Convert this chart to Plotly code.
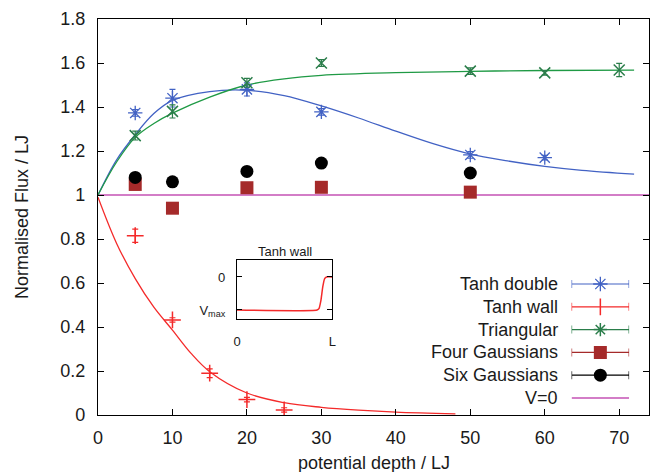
import plotly.graph_objects as go

# ---------------- data ----------------
depth_td = [5, 10, 20, 30, 50, 60]
flux_td = [1.373, 1.44, 1.48, 1.378, 1.182, 1.17]
err_td = [0.015, 0.04, 0.03, 0.015, 0.015, 0.01]

depth_tw = [5, 10, 15, 20, 25]
flux_tw = [0.815, 0.432, 0.19, 0.07, 0.023]
err_tw = [0.03, 0.01, 0.02, 0.01, 0.01]

depth_tri = [5, 10, 20, 30, 50, 60, 70]
flux_tri = [1.27, 1.38, 1.51, 1.60, 1.563, 1.555, 1.568]
err_tri = [0.02, 0.03, 0.02, 0.015, 0.015, 0.01, 0.03]

depth_g4 = [5, 10, 20, 30, 50]
flux_g4 = [1.048, 0.94, 1.033, 1.035, 1.013]
err_g4 = [0.01, 0.005, 0.005, 0.012, 0.005]

depth_g6 = [5, 10, 20, 30, 50]
flux_g6 = [1.08, 1.06, 1.107, 1.145, 1.10]
err_g6 = [0.005, 0.005, 0.005, 0.005, 0.005]

# fitted curves
fit_td_x = [0, 2.5, 5, 7.5, 10, 15, 20, 25, 30, 35, 40, 45, 50, 55, 60, 65, 72]
fit_td_y = [1.0, 1.16, 1.274, 1.37, 1.43, 1.47, 1.476, 1.452, 1.405, 1.35, 1.29, 1.233, 1.186, 1.155, 1.13, 1.112, 1.095]

fit_tri_x = [0, 2.5, 5, 7.5, 10, 15, 20, 25, 30, 40, 50, 60, 72]
fit_tri_y = [1.0, 1.15, 1.262, 1.325, 1.372, 1.445, 1.50, 1.528, 1.544, 1.556, 1.562, 1.566, 1.568]

fit_tw_x = [0, 2.5, 5, 7.5, 10, 12.5, 15, 20, 25, 30, 35, 40, 48]
fit_tw_y = [0.99, 0.78, 0.62, 0.49, 0.386, 0.28, 0.197, 0.10, 0.056, 0.035, 0.022, 0.013, 0.005]

v0_x = [0, 74]
v0_y = [1, 1]

# inset: tanh wall potential profile
inset_x = [0, 0.84, 0.86, 0.88, 0.90, 0.92, 0.94, 1.0]
inset_y = [-1, -1, -0.96, -0.72, -0.3, -0.05, 0, 0]

legend_names = ["Tanh double", "Tanh wall", "Triangular", "Four Gaussians", "Six Gaussians", "V=0"]

# ---------------- styles ----------------
C_BLUE = "#4262c4"
C_RED = "#f42a2a"
C_GREEN = "#2a7d4a"
C_GREEN_LINE = "#1f9a45"
C_BROWN = "#a52a2a"
C_BLACK = "#000000"
C_MAG = "#c452b4"

FONT = "Liberation Sans, Arial, Helvetica, sans-serif"
FS = 18

fig = go.Figure()

def eb(arr, color, width=3):
    return dict(type="data", array=arr, visible=True, color=color, thickness=1.2, width=width)

# curves
fig.add_trace(go.Scatter(x=v0_x, y=v0_y, mode="lines", line=dict(color=C_MAG, width=1.5), showlegend=False))
fig.add_trace(go.Scatter(x=fit_td_x, y=fit_td_y, mode="lines", line=dict(color=C_BLUE, width=1.3, shape="spline"), showlegend=False))
fig.add_trace(go.Scatter(x=fit_tri_x, y=fit_tri_y, mode="lines", line=dict(color=C_GREEN_LINE, width=1.3, shape="spline"), showlegend=False))
fig.add_trace(go.Scatter(x=fit_tw_x, y=fit_tw_y, mode="lines", line=dict(color=C_RED, width=1.3, shape="spline"), showlegend=False))

# points
fig.add_trace(go.Scatter(x=depth_td, y=flux_td, mode="markers", error_y=eb(err_td, C_BLUE),
                         marker=dict(symbol="asterisk-open", size=12, color=C_BLUE, line=dict(color=C_BLUE, width=1.3)), showlegend=False))
fig.add_trace(go.Scatter(x=depth_tw, y=flux_tw, mode="markers", error_y=eb(err_tw, C_RED),
                         marker=dict(symbol="cross-thin-open", size=12, color=C_RED, line=dict(color=C_RED, width=1.5)), showlegend=False))
fig.add_trace(go.Scatter(x=depth_tri, y=flux_tri, mode="markers", error_y=eb(err_tri, C_GREEN),
                         marker=dict(symbol="x-thin-open", size=11, color=C_GREEN, line=dict(color=C_GREEN, width=1.5)), showlegend=False))
fig.add_trace(go.Scatter(x=depth_g4, y=flux_g4, mode="markers", error_y=eb(err_g4, C_BROWN),
                         marker=dict(symbol="square", size=13, color=C_BROWN), showlegend=False))
fig.add_trace(go.Scatter(x=depth_g6, y=flux_g6, mode="markers", error_y=eb(err_g6, C_BLACK),
                         marker=dict(symbol="circle", size=13, color=C_BLACK), showlegend=False))

# inset
fig.add_trace(go.Scatter(x=inset_x, y=inset_y, mode="lines", xaxis="x2", yaxis="y2",
                         line=dict(color=C_RED, width=1.5, shape="spline", smoothing=0.6), showlegend=False))

# custom gnuplot-style legend (sample on the right of the label)
leg_styles = [
    dict(symbol="asterisk-open", size=12, color=C_BLUE, line=dict(color=C_BLUE, width=1.3)),
    dict(symbol="line-ns-open", size=12, color=C_RED, line=dict(color=C_RED, width=1.5)),
    dict(symbol="asterisk-open", size=11, color=C_GREEN, line=dict(color=C_GREEN, width=1.5)),
    dict(symbol="square", size=13, color=C_BROWN),
    dict(symbol="circle", size=13, color=C_BLACK),
]
leg_colors = [C_BLUE, C_RED, C_GREEN, C_BROWN, C_BLACK]
for i, (st, col) in enumerate(zip(leg_styles, leg_colors)):
    fig.add_trace(go.Scatter(x=[0.5], y=[i], mode="markers", xaxis="x3", yaxis="y3",
                             error_x=dict(type="data", array=[0.5], visible=True, color=col, thickness=1.2, width=4),
                             marker=st, showlegend=False, hoverinfo="skip"))
fig.add_trace(go.Scatter(x=[0, 1], y=[5, 5], mode="lines", xaxis="x3", yaxis="y3",
                         line=dict(color=C_MAG, width=1.5), showlegend=False, hoverinfo="skip"))

annotations = []
for i, name in enumerate(legend_names):
    annotations.append(dict(text=name, xref="paper", yref="y3", x=(563 - 98) / 555, y=i,
                            xanchor="right", yanchor="middle", showarrow=False,
                            font=dict(size=FS, color="#1a1a1a", family=FONT)))
annotations.append(dict(text="Tanh wall", xref="x2", yref="paper", x=0.5,
                        y=(415 - 251) / 396, yanchor="middle", showarrow=False,
                        font=dict(size=13, color="#1a1a1a", family=FONT)))
annotations.append(dict(text="potential depth / LJ", xref="paper", yref="paper", x=0.5, y=0,
                        yshift=-48, yanchor="middle", showarrow=False,
                        font=dict(size=FS, color="#1a1a1a", family=FONT)))
annotations.append(dict(text="Normalised Flux / LJ", xref="paper", yref="paper", x=0, y=0.5,
                        xshift=-76, textangle=-90, xanchor="center", yanchor="middle", showarrow=False,
                        font=dict(size=FS, color="#1a1a1a", family=FONT)))

row0, dy = 284, 22.8
fig.update_layout(
    width=653, height=472,
    margin=dict(l=98, r=0, t=19, b=57),
    paper_bgcolor="white", plot_bgcolor="rgba(0,0,0,0)",
    font=dict(family=FONT, size=FS, color="#1a1a1a"),
    showlegend=False,
    xaxis=dict(range=[0, 74], tickvals=[0, 10, 20, 30, 40, 50, 60, 70], ticks="inside", ticklen=6,
               tickcolor="black", mirror="allticks", showline=True, linecolor="black", linewidth=1.2,
               showgrid=False, zeroline=False, ticklabelstandoff=6, tickfont=dict(size=FS)),
    yaxis=dict(range=[0, 1.8], tickvals=[0, 0.2, 0.4, 0.6, 0.8, 1, 1.2, 1.4, 1.6, 1.8],
               ticktext=["0", "0.2", "0.4", "0.6", "0.8", "1", "1.2", "1.4", "1.6", "1.8"],
               ticks="inside", ticklen=6, tickcolor="black", mirror="allticks", showline=True,
               linecolor="black", linewidth=1.2, showgrid=False, zeroline=False,
               ticklabelstandoff=8, tickfont=dict(size=FS)),
    xaxis2=dict(domain=[(238 - 98) / 555, (334 - 98) / 555], anchor="y2", range=[0, 1],
                tickvals=[0, 1], ticktext=["0", "L"], ticks="", showline=True, mirror=True,
                linecolor="black", linewidth=1.2, showgrid=False, zeroline=False,
                ticklabelstandoff=10, tickfont=dict(size=13)),
    yaxis2=dict(domain=[(415 - 319) / 396, (415 - 260) / 396], anchor="x2", range=[-1.273, 0.515],
                tickvals=[-1, 0], ticktext=["V<sub>max</sub>", "0"], ticks="inside", ticklen=5,
                tickcolor="black", mirror="allticks", showline=True, linecolor="black", linewidth=1.2,
                showgrid=False, zeroline=False, ticklabelstandoff=8, tickfont=dict(size=13)),
    xaxis3=dict(domain=[(575 - 98) / 555, (633 - 98) / 555], anchor="y3", range=[0, 1], visible=False),
    yaxis3=dict(domain=[0, 1], anchor="x3", range=[(415 - row0) / dy, (19 - row0) / dy], visible=False),
    annotations=annotations,
)

fig.write_html("out.html", config={"displayModeBar": False},
               post_script="document.body.style.margin='0px';")
